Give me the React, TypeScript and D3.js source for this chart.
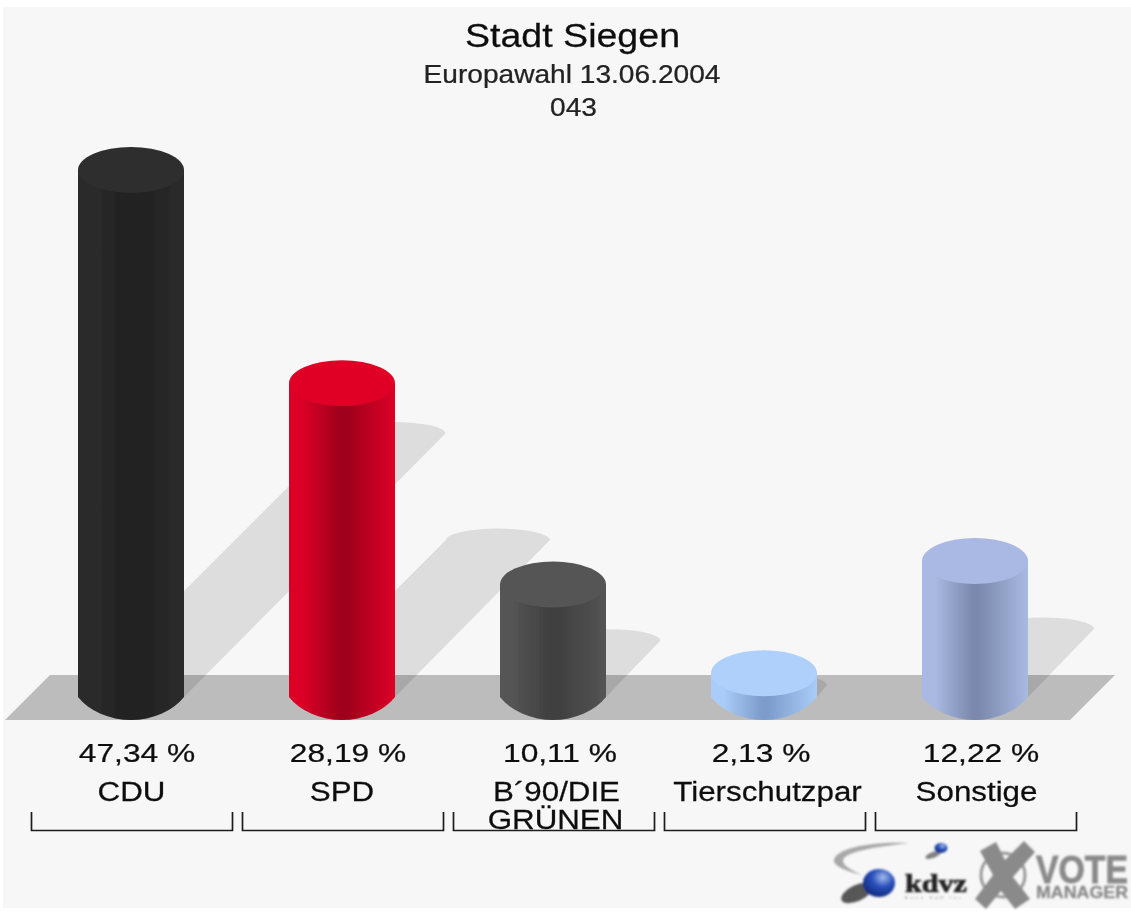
import React from "react";
import * as d3 from "d3";

const parties = ["CDU", "SPD", "B´90/DIE GRÜNEN", "Tierschutzpar", "Sonstige"];
const values = [47.34, 28.19, 10.11, 2.13, 12.22];
const valueLabels = ["47,34 %", "28,19 %", "10,11 %", "2,13 %", "12,22 %"];
const labelLines = [["CDU"], ["SPD"], ["B´90/DIE", "GRÜNEN"], ["Tierschutzpar"], ["Sonstige"]];
const topColors = ["#2e2e2e", "#e00027", "#555555", "#aed0fb", "#a9b9e3"];
const edgeColors = ["#2c2c2c", "#dc0027", "#545454", "#aaccf8", "#a9b9e1"];
const darkColors = ["#202020", "#9e001c", "#3f3f3f", "#7d9ccb", "#7c89ad"];
const titleLines = ["Stadt Siegen", "Europawahl 13.06.2004", "043"];
const valueOffsets = [6, 6, 7, -3, 6];
const labelOffsets = [[0.5], [0], [3.5, 2.5], [3.5], [1.5]];

const FONT = "'Liberation Sans', Arial, sans-serif";
const BASE_Y = 697;
const RX = 53;
const RY = 23;

const x = d3.scaleBand<string>().domain(parties).range([25.5, 1080.5]);
const h = d3.scaleLinear().domain([0, 47.34]).range([0, 527]);

function Stretched({ cx, y, size, sx, fill = "#111111", children }: any) {
  return (
    <text
      transform={`translate(${cx},${y}) scale(${sx},1)`}
      fontSize={size}
      fill={fill}
      stroke={fill}
      strokeWidth={0.25}
      textAnchor="middle"
    >
      {children}
    </text>
  );
}

export default function App() {
  return (
    <svg
      width={1131}
      height={913}
      style={{ position: "absolute", left: 0, top: 0, display: "block" }}
      fontFamily={FONT}
    >
      <defs>
        {parties.map((_, i) => (
          <linearGradient key={i} id={`side${i}`} x1="0" x2="1" y1="0" y2="0">
            <stop offset="0" stopColor={edgeColors[i]} />
            <stop offset="0.12" stopColor={edgeColors[i]} />
            <stop offset="0.48" stopColor={darkColors[i]} />
            <stop offset="0.54" stopColor={darkColors[i]} />
            <stop offset="1" stopColor={edgeColors[i]} />
          </linearGradient>
        ))}
        <radialGradient id="ball" cx="0.62" cy="0.3" r="0.75">
          <stop offset="0" stopColor="#a3bdea" />
          <stop offset="0.45" stopColor="#2a50bb" />
          <stop offset="1" stopColor="#10287a" />
        </radialGradient>
        <filter id="soft" x="-5%" y="-5%" width="110%" height="110%">
          <feGaussianBlur stdDeviation="0.5" />
        </filter>
        <filter id="softer" x="-20%" y="-20%" width="140%" height="140%">
          <feGaussianBlur stdDeviation="0.9" />
        </filter>
      </defs>

      <rect width={1131} height={913} fill="#ffffff" />
      <rect x={3} y={7} width={1128} height={901} fill="#f7f7f7" />

      <g filter="url(#soft)">
        <path d="M5,720 L50,675 L1115,675 L1070,720 Z" fill="#bcbcbc" />

        {parties.map((p, i) => {
          const cx = x(p)! + x.bandwidth() / 2;
          const s = h(values[i]) / 2;
          return (
            <path
              key={p}
              d={`M${cx - RX},${BASE_Y} L${cx - RX + s},${BASE_Y - s} A${RX - 1},${RY / 2} 0 0 1 ${cx + RX + s - 2},${BASE_Y - s} L${cx + RX},${BASE_Y} Z`}
              fill="#000000"
              fillOpacity={0.105}
            />
          );
        })}

        {parties.map((p, i) => {
          const cx = x(p)! + x.bandwidth() / 2;
          const top = BASE_Y - h(values[i]);
          return (
            <g key={p}>
              <path
                d={`M${cx - RX},${top} L${cx - RX},${BASE_Y} A62,47.8 0 0 0 ${cx + RX},${BASE_Y} L${cx + RX},${top} Z`}
                fill={`url(#side${i})`}
              />
              <ellipse cx={cx} cy={top} rx={RX} ry={RY} fill={topColors[i]} />
            </g>
          );
        })}

        {parties.map((p) => {
          const c = x(p)! + x.bandwidth() / 2 + 1;
          return (
            <path
              key={p}
              d={`M${c - 100.5},812 V830.5 H${c + 100.5} V812`}
              fill="none"
              stroke="#1c1c1c"
              strokeWidth={1.7}
            />
          );
        })}
      </g>

      <g filter="url(#soft)">
        <Stretched cx={572.5} y={47} size={34} sx={1.105}>{titleLines[0]}</Stretched>
        <Stretched cx={572} y={83} size={25} sx={1.125} fill="#222222">{titleLines[1]}</Stretched>
        <Stretched cx={573.5} y={116} size={25} sx={1.125} fill="#222222">{titleLines[2]}</Stretched>
        {parties.map((p, i) => {
          const c = x(p)! + x.bandwidth() / 2;
          return (
            <Stretched key={p} cx={c + valueOffsets[i]} y={762} size={26} sx={1.22}>
              {valueLabels[i]}
            </Stretched>
          );
        })}
        {parties.map((p, i) => {
          const c = x(p)! + x.bandwidth() / 2;
          return labelLines[i].map((line, j) => (
            <Stretched key={line} cx={c + labelOffsets[i][j]} y={801 + j * 28} size={27} sx={1.16}>
              {line}
            </Stretched>
          ));
        })}
      </g>

      {/* logos */}
      <g filter="url(#softer)">
        <path d="M910,843 C872,841 836,848 834,860 C833,866 846,871 862,875 C848,869 840,863 844,858 C850,851 880,846 910,843 Z" fill="#a8a8a8" />
        <ellipse cx={933} cy={855} rx={8} ry={3} fill="#333" opacity={0.6} transform="rotate(-20 933 855)" />
        <ellipse cx={941} cy={848} rx={6.5} ry={5} fill="url(#ball)" />
        <ellipse cx={857} cy={893} rx={17} ry={8} fill="#222" opacity={0.75} transform="rotate(-25 857 893)" />
        <ellipse cx={879} cy={883} rx={16} ry={14} fill="url(#ball)" />
        <text x={905} y={892} fontFamily="'Liberation Serif', serif" fontWeight="bold" fontSize={25} fill="#222" stroke="#222" strokeWidth={0.7} textLength={62} lengthAdjust="spacingAndGlyphs">kdvz</text>
        <text x={905} y={899} fontSize={4} fill="#888" textLength={56}>Bonn KdR Inc</text>
        <circle cx={1003} cy={875} r={22} fill="none" stroke="#9a9a9a" strokeWidth={3} />
        <path d="M980,851 L996,842 L1005,860 L1024,841 L1035,852 L1013,877 L1030,899 L1015,909 L1001,891 L986,909 L975,899 L993,875 Z" fill="#8a8a8a" />
        <text x={1036} y={883} fontWeight="bold" fontSize={38} fill="#8a8a8a" stroke="#8a8a8a" strokeWidth={0.8} textLength={92} lengthAdjust="spacingAndGlyphs">VOTE</text>
        <text x={1036} y={898} fontWeight="bold" fontSize={17} fill="#8a8a8a" stroke="#8a8a8a" strokeWidth={0.3} textLength={92} lengthAdjust="spacingAndGlyphs">MANAGER</text>
      </g>
    </svg>
  );
}
